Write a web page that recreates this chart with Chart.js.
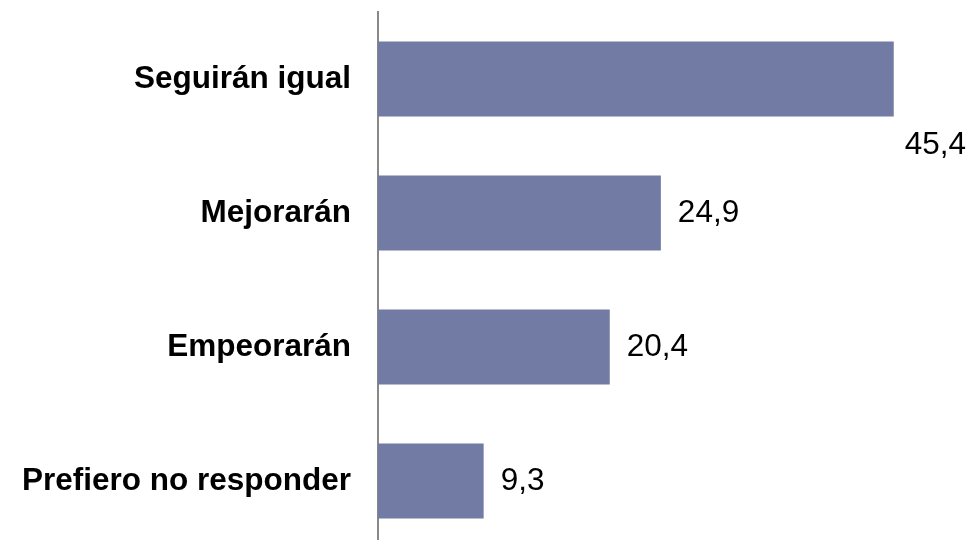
<!DOCTYPE html>
<html lang="es">
<head>
    <meta charset="UTF-8">
    <title>Expectativas</title>
    <script src="https://cdn.jsdelivr.net/npm/chart.js"></script>
    <style>
        html, body {
            margin: 0;
            padding: 0;
            background: #ffffff;
            overflow: hidden;
        }
        .wrap {
            position: relative;
            width: 969px;
            height: 548px;
        }
    </style>
</head>
<body>
    <div class="wrap">
        <canvas id="chart"></canvas>
    </div>

    <script>
        // Data
        const categories = ['Seguirán igual', 'Mejorarán', 'Empeorarán', 'Prefiero no responder'];
        const values = [45.4, 24.9, 20.4, 9.3];
        const valueLabels = ['45,4', '24,9', '20,4', '9,3'];

        const barColor = '#717ba3';
        const fontFamily = '"Liberation Sans", Arial, sans-serif';
        const fontSize = 31.5;

        // Draw the value next to each bar; when it would run off the canvas, drop it below the bar
        const valueLabelPlugin = {
            id: 'valueLabels',
            afterDatasetsDraw(chart) {
                const ctx = chart.ctx;
                const meta = chart.getDatasetMeta(0);
                ctx.save();
                ctx.font = fontSize + 'px ' + fontFamily;
                ctx.fillStyle = '#000000';
                ctx.textBaseline = 'middle';
                ctx.textAlign = 'left';
                meta.data.forEach((bar, i) => {
                    const text = valueLabels[i];
                    const w = ctx.measureText(text).width;
                    let x = bar.x + 17;
                    let y = bar.y;
                    if (x + w > chart.width - 2) {
                        x = chart.width - w - 3;
                        y = bar.y + bar.height / 2 + 29;
                    }
                    ctx.fillText(text, x, y);
                });
                ctx.restore();
            }
        };

        new Chart(document.getElementById('chart'), {
            type: 'bar',
            data: {
                labels: categories,
                datasets: [{
                    data: values,
                    backgroundColor: barColor,
                    borderWidth: 0,
                    barPercentage: 0.56,
                    categoryPercentage: 1.0
                }]
            },
            options: {
                indexAxis: 'y',
                responsive: true,
                maintainAspectRatio: false,
                animation: false,
                layout: {
                    padding: { left: 0, right: 23, top: 12, bottom: 0 }
                },
                plugins: {
                    legend: { display: false },
                    tooltip: { enabled: false }
                },
                scales: {
                    x: {
                        display: false,
                        min: 0,
                        max: 50
                    },
                    y: {
                        grid: { display: false, drawTicks: false },
                        border: { display: true, color: '#888888', width: 2 },
                        ticks: {
                            color: '#000000',
                            padding: 27,
                            font: { family: fontFamily, size: fontSize, weight: 'bold' }
                        },
                        afterFit(scale) {
                            scale.width = 378;
                            scale.paddingTop = 0;
                            scale.paddingBottom = 0;
                        }
                    }
                }
            },
            plugins: [valueLabelPlugin]
        });
    </script>
</body>
</html>
